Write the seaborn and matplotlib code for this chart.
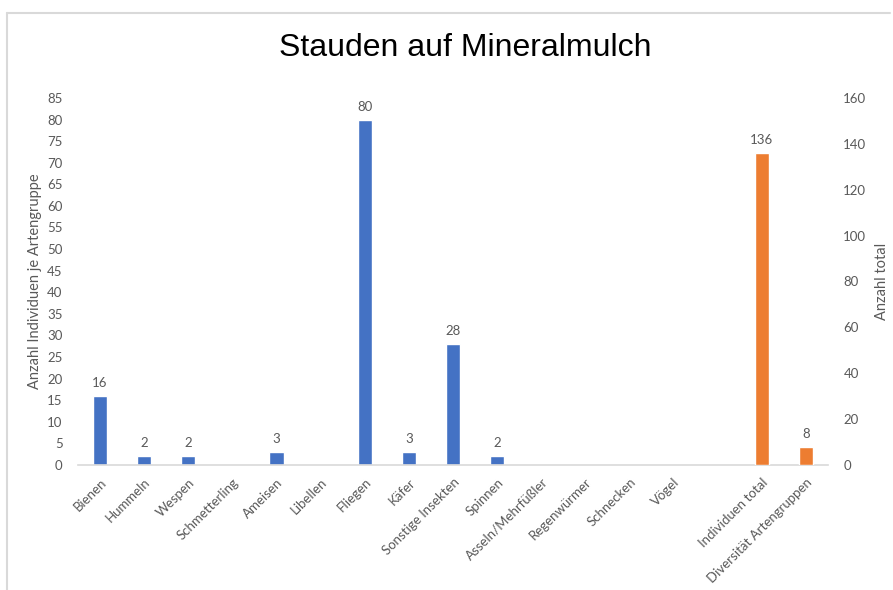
import pandas as pd
import matplotlib.pyplot as plt
import seaborn as sns
from matplotlib.lines import Line2D

# Kategorien (die leere Kategorie ist die Lücke vor den Summen)
kategorien = ["Bienen", "Hummeln", "Wespen", "Schmetterling", "Ameisen", "Libellen",
              "Fliegen", "Käfer", "Sonstige Insekten", "Spinnen", "Asseln/Mehrfüßler",
              "Regenwürmer", "Schnecken", "Vögel", " ", "Individuen total",
              "Diversität Artengruppen"]

# Werte je Artengruppe (linke Achse)
gruppen = ["Bienen", "Hummeln", "Wespen", "Ameisen", "Fliegen", "Käfer",
           "Sonstige Insekten", "Spinnen"]
gruppen_werte = [16, 2, 2, 3, 80, 3, 28, 2]

# Summen (rechte Achse)
summen = ["Individuen total", "Diversität Artengruppen"]
summen_werte = [136, 8]

blau = "#4472C4"
orange = "#ED7D31"
grau = "#595959"

df_gruppen = pd.DataFrame({"kategorie": gruppen, "wert": gruppen_werte})
df_summen = pd.DataFrame({"kategorie": summen, "wert": summen_werte})

sns.set_style("white")
plt.rcParams["font.family"] = ["Lato", "DejaVu Sans"]

fig = plt.figure(figsize=(8.93, 5.90), dpi=100)
ax = fig.add_axes([0.0873, 0.212, 0.840, 0.622])
ax2 = ax.twinx()

sns.barplot(data=df_gruppen, x="kategorie", y="wert", order=kategorien,
            color=blau, saturation=1, width=0.32, ax=ax)
sns.barplot(data=df_summen, x="kategorie", y="wert", order=kategorien,
            color=orange, saturation=1, width=0.32, ax=ax2)

ax.set_xlim(-0.5, len(kategorien) - 0.5)
ax.set_ylim(0, 85)
ax2.set_ylim(0, 160)
ax.set_yticks(range(0, 86, 5))
ax2.set_yticks(range(0, 161, 20))

# Datenbeschriftungen
for c in ax.containers:
    ax.bar_label(c, fmt="%d", padding=5, fontsize=9.5, color=grau)
for c in ax2.containers:
    ax2.bar_label(c, fmt="%d", padding=5, fontsize=9.5, color=grau)

# Achsen
for a in (ax, ax2):
    for s in a.spines.values():
        s.set_visible(False)
    a.set_xlabel("")
ax.spines["bottom"].set_visible(True)
ax.spines["bottom"].set_color("#D9D9D9")
ax.spines["bottom"].set_linewidth(1.2)

ax.tick_params(axis="y", length=0, pad=11, labelsize=9.5, labelcolor=grau)
ax2.tick_params(axis="y", length=0, pad=11, labelsize=9.5, labelcolor=grau)
ax.tick_params(axis="x", length=0, pad=8, labelsize=9.5, labelcolor=grau)
plt.setp(ax.get_xticklabels(), rotation=45, ha="right", rotation_mode="anchor")

ax.set_ylabel("Anzahl Individuen je Artengruppe", fontsize=10.5, color=grau, labelpad=4)
ax2.set_ylabel("Anzahl total", fontsize=10.5, color=grau, labelpad=6)

fig.text(465 / 893, 1 - 48 / 590, "Stauden auf Mineralmulch", ha="center", va="center",
         fontsize=23, family="Liberation Sans", color="black")

# Rahmen wie im Original (links und oben)
fig.add_artist(Line2D([7 / 893, 7 / 893], [0, 1 - 13 / 590], color="#D9D9D9", lw=1.5))
fig.add_artist(Line2D([7 / 893, 890 / 893], [1 - 13 / 590, 1 - 13 / 590], color="#D9D9D9", lw=1.5))

plt.savefig("out.png", dpi=100)
